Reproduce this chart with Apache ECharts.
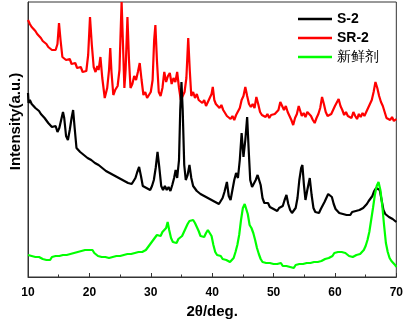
<!DOCTYPE html>
<html>
<head>
<meta charset="utf-8">
<script src="https://cdn.jsdelivr.net/npm/echarts@6/dist/echarts.min.js"></script>
<style>
  html, body { margin: 0; padding: 0; background: #fff; }
  #chart { width: 406px; height: 324px; }
</style>
</head>
<body>
<div id="chart"></div>
<script>
// XRD patterns, [2theta, intensity (a.u.)]
const xTicks = [10, 20, 30, 40, 50, 60, 70]
const seriesNames = ['S-2', 'SR-2', '新鲜剂']

const s2 = [
  [10.0, 184], [10.1, 174], [10.3, 177], [10.6, 173], [10.9, 174], [11.2, 169], [11.5, 171], [11.8, 166],
  [12.1, 163], [12.4, 165], [12.7, 159], [13.0, 157], [13.3, 154], [13.6, 156], [13.9, 150], [14.2, 148],
  [14.5, 151], [14.8, 145], [15.1, 149], [15.4, 157], [15.7, 165], [15.9, 159], [16.2, 141], [16.5, 137],
  [16.8, 147], [17.1, 159], [17.35, 167], [17.6, 149], [17.9, 129], [18.2, 130], [18.5, 125], [18.8, 127],
  [19.1, 122], [19.4, 124], [19.7, 119], [20.0, 121], [20.3, 117], [20.6, 119], [20.9, 114], [21.2, 116],
  [21.5, 112], [21.8, 114], [22.1, 109], [22.4, 111], [22.7, 106], [23.0, 108], [23.3, 104], [23.6, 106],
  [23.9, 102], [24.2, 104], [24.5, 100], [24.8, 102], [25.1, 98], [25.4, 100], [25.7, 96], [26.0, 98],
  [26.3, 94], [26.6, 96], [26.9, 93], [27.2, 95], [27.5, 99], [27.8, 105], [28.1, 110], [28.4, 101],
  [28.7, 91], [29.0, 93], [29.3, 89], [29.6, 90], [29.9, 87], [30.2, 91], [30.5, 97], [30.8, 109],
  [31.1, 125], [31.4, 109], [31.7, 91], [32.0, 87], [32.3, 91], [32.6, 87], [32.9, 90], [33.2, 86],
  [33.5, 92], [33.8, 99], [34.05, 107], [34.3, 99], [34.6, 117], [34.8, 167], [35.0, 195], [35.2, 167],
  [35.45, 112], [35.7, 97], [36.0, 102], [36.3, 112], [36.6, 99], [36.9, 91], [37.2, 90], [37.5, 86],
  [37.8, 88], [38.1, 83], [38.4, 85], [38.7, 81], [39.0, 83], [39.3, 79], [39.6, 81], [39.9, 77],
  [40.2, 79], [40.5, 75], [40.8, 77], [41.1, 73], [41.4, 75], [41.7, 79], [42.0, 85], [42.4, 95],
  [42.7, 81], [43.0, 77], [43.3, 87], [43.6, 97], [43.9, 104], [44.2, 99], [44.5, 117], [44.8, 144],
  [45.1, 120], [45.4, 137], [45.7, 160], [45.95, 127], [46.2, 97], [46.5, 90], [46.8, 91], [47.1, 97],
  [47.4, 102], [47.65, 104], [47.9, 92], [48.2, 79], [48.5, 74], [48.8, 72], [49.1, 74], [49.4, 70],
  [49.7, 72], [50.0, 68], [50.3, 70], [50.6, 66], [50.9, 69], [51.2, 67], [51.5, 71], [51.8, 77],
  [52.1, 82], [52.4, 73], [52.7, 67], [53.0, 64], [53.3, 66], [53.6, 69], [53.9, 79], [54.2, 97],
  [54.5, 109], [54.7, 112], [54.95, 92], [55.2, 77], [55.5, 87], [55.9, 99], [56.2, 82], [56.5, 69],
  [56.8, 65], [57.1, 67], [57.4, 64], [57.7, 68], [58.0, 70], [58.3, 75], [58.6, 79], [58.9, 83],
  [59.2, 85], [59.5, 80], [59.8, 73], [60.1, 68], [60.4, 66], [60.7, 64], [61.0, 66], [61.3, 63],
  [61.6, 65], [61.9, 62], [62.2, 64], [62.5, 62], [62.8, 65], [63.1, 63], [63.4, 66], [63.7, 64],
  [64.0, 67], [64.3, 65], [64.6, 69], [64.9, 71], [65.2, 73], [65.5, 76], [65.8, 78], [66.1, 81],
  [66.4, 86], [66.7, 89], [67.0, 90], [67.3, 87], [67.6, 77], [67.9, 67], [68.2, 63], [68.5, 64],
  [68.8, 60], [69.1, 61], [69.4, 58], [69.7, 59], [70.0, 55]
]

const sr2 = [
  [10.0, 257], [10.3, 253], [10.6, 250], [10.9, 251], [11.2, 246], [11.5, 243], [11.8, 244], [12.1, 239],
  [12.4, 236], [12.7, 237], [13.0, 233], [13.3, 230], [13.6, 231], [13.9, 227], [14.2, 225], [14.5, 227],
  [14.8, 233], [15.05, 254], [15.3, 237], [15.6, 220], [15.9, 221], [16.2, 217], [16.5, 215], [16.8, 218],
  [17.1, 213], [17.4, 211], [17.7, 214], [18.0, 209], [18.3, 207], [18.6, 210], [18.9, 205], [19.2, 203],
  [19.5, 206], [19.8, 222], [20.1, 260], [20.4, 232], [20.7, 210], [21.0, 205], [21.3, 211], [21.5, 207],
  [21.8, 220], [22.1, 199], [22.5, 179], [22.9, 189], [23.2, 207], [23.4, 229], [23.6, 205], [23.9, 182],
  [24.2, 187], [24.6, 191], [24.9, 207], [25.1, 247], [25.25, 275], [25.45, 237], [25.7, 189], [25.9, 207],
  [26.2, 260], [26.45, 217], [26.7, 189], [27.0, 193], [27.3, 201], [27.6, 197], [27.9, 205], [28.2, 214],
  [28.5, 197], [28.8, 182], [29.1, 185], [29.4, 179], [29.7, 182], [30.0, 185], [30.3, 197], [30.55, 237],
  [30.75, 252], [31.0, 217], [31.3, 185], [31.6, 181], [31.9, 189], [32.2, 205], [32.5, 195], [32.8, 201],
  [33.1, 204], [33.4, 193], [33.7, 199], [34.0, 195], [34.3, 205], [34.6, 189], [34.9, 177], [35.2, 181],
  [35.5, 185], [35.8, 199], [36.1, 239], [36.35, 207], [36.6, 181], [36.9, 185], [37.2, 179], [37.5, 183],
  [37.8, 177], [38.1, 179], [38.4, 174], [38.7, 177], [39.0, 171], [39.3, 175], [39.6, 173], [39.9, 183],
  [40.1, 190], [40.35, 177], [40.6, 173], [40.9, 175], [41.2, 169], [41.5, 172], [41.8, 167], [42.1, 165],
  [42.4, 161], [42.7, 163], [43.0, 158], [43.3, 161], [43.6, 157], [43.9, 162], [44.2, 160], [44.5, 169],
  [44.8, 177], [45.1, 181], [45.4, 190], [45.7, 181], [46.0, 173], [46.3, 170], [46.6, 173], [46.9, 169],
  [47.2, 180], [47.5, 173], [47.8, 165], [48.1, 162], [48.4, 164], [48.7, 160], [49.0, 163], [49.3, 159],
  [49.6, 162], [49.9, 160], [50.2, 163], [50.5, 161], [50.8, 167], [51.1, 175], [51.4, 171], [51.7, 167],
  [52.0, 171], [52.3, 165], [52.6, 161], [52.9, 157], [53.2, 152], [53.5, 159], [53.8, 163], [54.1, 171],
  [54.3, 167], [54.6, 161], [54.9, 164], [55.2, 160], [55.5, 165], [55.8, 167], [56.1, 161], [56.4, 157],
  [56.7, 154], [57.0, 159], [57.3, 163], [57.6, 169], [57.9, 180], [58.2, 173], [58.5, 165], [58.8, 161],
  [59.1, 159], [59.4, 163], [59.7, 167], [60.0, 171], [60.3, 173], [60.6, 178], [60.9, 171], [61.2, 167],
  [61.5, 162], [61.8, 165], [62.1, 161], [62.4, 163], [62.7, 159], [63.0, 165], [63.3, 161], [63.6, 158],
  [63.9, 163], [64.2, 160], [64.5, 164], [64.8, 161], [65.1, 165], [65.4, 167], [65.7, 173], [66.0, 177],
  [66.3, 185], [66.6, 195], [66.9, 189], [67.2, 181], [67.5, 175], [67.8, 171], [68.1, 165], [68.4, 159],
  [68.7, 161], [69.0, 157], [69.3, 160], [69.6, 156], [70.0, 158]
]

const fresh = [
  [10.0, 22], [10.3, 24], [10.6, 21], [10.9, 23], [11.2, 20], [11.5, 22], [11.8, 20], [12.1, 21],
  [12.4, 18], [12.7, 20], [13.0, 17], [13.3, 19], [13.6, 17], [13.9, 20], [14.2, 19], [14.5, 21],
  [14.8, 19], [15.1, 21], [15.4, 20], [15.7, 22], [16.0, 20], [16.3, 22], [16.6, 21], [16.9, 23],
  [17.2, 22], [17.5, 24], [17.8, 23], [18.1, 25], [18.4, 24], [18.7, 26], [19.0, 25], [19.3, 27],
  [19.6, 26], [19.9, 27], [20.2, 25], [20.5, 27], [20.8, 24], [21.1, 23], [21.4, 21], [21.7, 22],
  [22.0, 20], [22.3, 19], [22.6, 20], [22.9, 18], [23.2, 19], [23.5, 17], [23.8, 20], [24.1, 19],
  [24.4, 21], [24.7, 19], [25.0, 21], [25.3, 20], [25.6, 22], [25.9, 21], [26.2, 23], [26.5, 21],
  [26.8, 23], [27.1, 22], [27.4, 24], [27.7, 23], [28.0, 25], [28.3, 23], [28.6, 25], [28.9, 24],
  [29.2, 27], [29.5, 29], [29.8, 32], [30.1, 34], [30.4, 37], [30.7, 39], [31.0, 42], [31.3, 44],
  [31.6, 41], [31.9, 45], [32.2, 43], [32.5, 49], [32.75, 55], [33.0, 47], [33.3, 39], [33.6, 35],
  [33.9, 37], [34.2, 34], [34.5, 38], [34.8, 37], [35.1, 41], [35.4, 45], [35.7, 49], [36.0, 53],
  [36.3, 56], [36.6, 58], [36.9, 57], [37.2, 54], [37.5, 50], [37.8, 46], [38.1, 41], [38.4, 43],
  [38.7, 40], [39.0, 44], [39.3, 47], [39.6, 48], [39.9, 41], [40.2, 32], [40.5, 25], [40.8, 22],
  [41.1, 20], [41.4, 21], [41.7, 18], [42.0, 19], [42.3, 17], [42.6, 18], [42.9, 15], [43.2, 16],
  [43.5, 19], [43.8, 25], [44.1, 32], [44.4, 42], [44.7, 57], [45.0, 69], [45.3, 73], [45.5, 74],
  [45.8, 63], [46.1, 52], [46.4, 49], [46.7, 44], [47.0, 37], [47.3, 29], [47.6, 23], [47.9, 18],
  [48.2, 15], [48.5, 13], [48.8, 14], [49.1, 12], [49.4, 14], [49.7, 12], [50.0, 13], [50.3, 11],
  [50.6, 13], [50.9, 12], [51.2, 14], [51.5, 11], [51.8, 13], [52.1, 11], [52.4, 13], [52.7, 10],
  [53.0, 12], [53.3, 9], [53.6, 12], [53.9, 11], [54.2, 13], [54.5, 11], [54.8, 13], [55.1, 12],
  [55.4, 14], [55.7, 12], [56.0, 14], [56.3, 13], [56.6, 15], [56.9, 13], [57.2, 15], [57.5, 14],
  [57.8, 16], [58.1, 15], [58.4, 18], [58.7, 16], [59.0, 19], [59.3, 18], [59.6, 21], [59.9, 24],
  [60.2, 26], [60.5, 25], [60.8, 27], [61.1, 25], [61.4, 26], [61.7, 24], [62.0, 23], [62.3, 21],
  [62.6, 22], [62.9, 20], [63.2, 21], [63.5, 22], [63.8, 24], [64.1, 23], [64.4, 25], [64.7, 27],
  [65.0, 31], [65.3, 37], [65.6, 45], [65.9, 57], [66.2, 69], [66.5, 82], [66.8, 91], [67.1, 95],
  [67.4, 87], [67.7, 72], [68.0, 52], [68.3, 34], [68.6, 25], [68.9, 19], [69.2, 16], [69.5, 14],
  [69.8, 12], [70.0, 10]
]

const chart = echarts.init(document.getElementById('chart'))
const font = 'Arial, "Liberation Sans", sans-serif'

const option = {
  animation: false,
  backgroundColor: '#fff',
  grid: {
    left: 23,
    right: 8,
    top: 2,
    bottom: 47,
    show: true,
    borderColor: '#333',
    borderWidth: 1
  },
  legend: {
    orient: 'vertical',
    left: 293,
    top: 7,
    icon: 'rect',
    itemWidth: 34,
    itemHeight: 2.5,
    itemGap: 5,
    data: [
      { name: seriesNames[0] },
      { name: seriesNames[1] },
      { name: seriesNames[2], textStyle: { fontWeight: 'normal', fontSize: 14 } }
    ],
    textStyle: {
      fontFamily: font,
      fontSize: 14,
      fontWeight: 'bold',
      color: '#000'
    }
  },
  xAxis: {
    type: 'value',
    min: xTicks[0],
    max: xTicks[xTicks.length - 1],
    interval: 10,
    name: '2θ/deg.',
    nameLocation: 'middle',
    nameGap: 27,
    nameTextStyle: { fontFamily: font, fontSize: 15, fontWeight: 'bold', color: '#000' },
    axisLine: { lineStyle: { color: '#333', width: 1 } },
    axisTick: { inside: true, length: 4, lineStyle: { color: '#333' } },
    minorTick: { show: true, splitNumber: 2, length: 2.5, lineStyle: { color: '#333' } },
    axisLabel: { fontFamily: font, fontSize: 12, fontWeight: 'bold', color: '#000', margin: 10 },
    splitLine: { show: false }
  },
  yAxis: {
    type: 'value',
    min: 0,
    max: 275,
    name: 'Intensity(a.u.)',
    nameLocation: 'middle',
    nameGap: 5,
    nameTextStyle: {
      fontFamily: font, fontSize: 15, fontWeight: 'bold', color: '#000',
      padding: [0, 0, 0, 36]
    },
    axisLine: { show: true, lineStyle: { color: '#333', width: 1 } },
    axisTick: { show: false },
    axisLabel: { show: false },
    splitLine: { show: false }
  },
  series: [
    {
      name: seriesNames[1],
      type: 'line',
      data: sr2,
      symbol: 'none',
      lineStyle: { color: '#ff0000', width: 2.2 },
      itemStyle: { color: '#ff0000' }
    },
    {
      name: seriesNames[0],
      type: 'line',
      data: s2,
      symbol: 'none',
      lineStyle: { color: '#000000', width: 2.2 },
      itemStyle: { color: '#000000' }
    },
    {
      name: seriesNames[2],
      type: 'line',
      data: fresh,
      symbol: 'none',
      lineStyle: { color: '#00ff00', width: 2.2 },
      itemStyle: { color: '#00ff00' }
    }
  ]
}

chart.setOption(option)
</script>
</body>
</html>
